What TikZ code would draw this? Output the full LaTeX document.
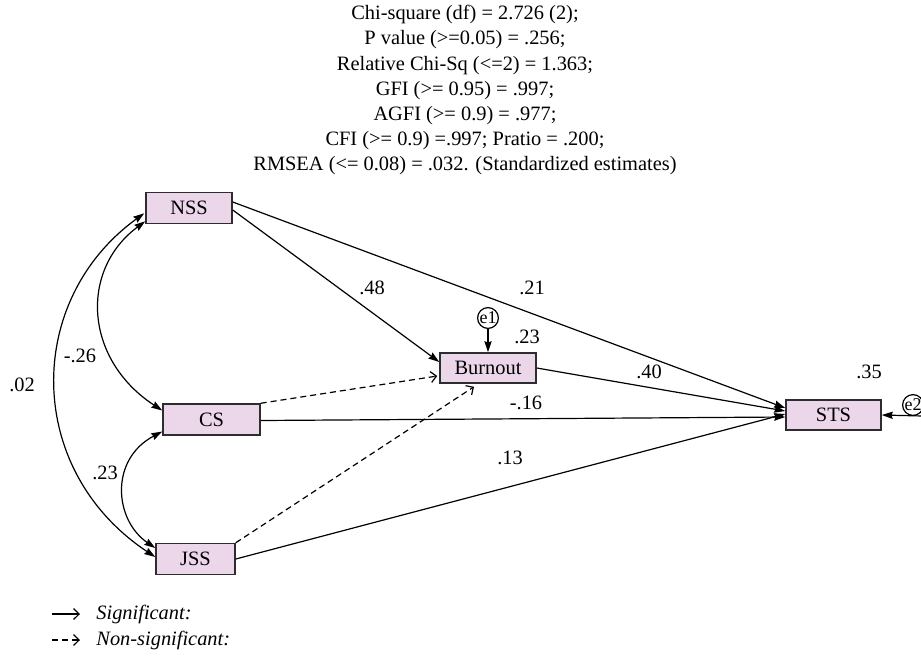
\documentclass[tikz,border=0pt]{standalone}
\usepackage{fontspec}
\setmainfont{Liberation Serif}
\usetikzlibrary{arrows.meta,calc}
\definecolor{boxfill}{RGB}{235,214,234}
\definecolor{boxdraw}{RGB}{45,45,45}
\begin{document}
\begin{tikzpicture}[x=0.5pt,y=-0.5pt,
  every node/.style={font=\fontsize{10.2pt}{12.6pt}\selectfont},
  var/.style={draw=boxdraw, line width=0.75pt, fill=boxfill, inner sep=0pt, minimum height=15.5pt},
  errc/.style={draw=black, circle, line width=0.6pt, inner sep=0pt, minimum size=10pt, font=\fontsize{9pt}{10pt}\selectfont},
  sig/.style={line width=0.6pt, -{Stealth[length=5.5pt,width=3.6pt,inset=0.6pt]}},
  nsig/.style={line width=0.6pt, dash pattern=on 3pt off 2pt, -{Straight Barb[length=2.8pt,width=5.5pt]}},
  cov/.style={line width=0.6pt, {Stealth[length=5.5pt,width=3.6pt,inset=0.6pt]}-{Stealth[length=5.5pt,width=3.6pt,inset=0.6pt]}},
  lbl/.style={inner sep=0pt},
  legtxt/.style={anchor=west, inner sep=0pt, font=\fontsize{10.2pt}{12.6pt}\selectfont\itshape}
]
\useasboundingbox (0,0) rectangle (921,660);

% fit statistics
\node[anchor=north, align=center, inner sep=0pt] (fitstats) at (465,5)
  {Chi-square (df) = 2.726 (2);\\
   P value (>=0.05) = .256;\\
   Relative Chi-Sq (<=2) = 1.363;\\
   GFI (>= 0.95) = .997;\\
   AGFI (>= 0.9) = .977;\\
   CFI (>= 0.9) =.997; Pratio = .200;\\
   RMSEA (<= 0.08) = .032. (Standardized estimates)};

% variables
\node[var, minimum width=43pt] (NSS) at (189,208) {NSS};
\node[var, minimum width=48.5pt] (CS) at (211.5,419.5) {CS};
\node[var, minimum width=39.5pt] (JSS) at (195.5,559) {JSS};
\node[var, minimum width=48pt, minimum height=15pt] (Burnout) at (488,368) {Burnout};
\node[var, minimum width=47.5pt, minimum height=15pt] (STS) at (833.5,415) {STS};
\node[errc] (e1) at (488,318) {e1};
\node[errc] (e2) at (913,405) {e2};

% paths
\draw[sig] ($(NSS.east)+(0,2)$) -- ($(Burnout.west)+(0,-6)$);
\draw[sig] ($(NSS.east)+(0,-6)$) -- ($(STS.west)+(0,-7)$);
\draw[sig] (Burnout.east) -- ($(STS.west)+(0,-4)$);
\draw[nsig] (CS.north east) -- ($(Burnout.west)+(-2,8)$);
\draw[sig] ($(CS.east)+(0,1)$) -- ($(STS.west)+(0,2)$);
\draw[nsig] (JSS.north east) -- ($(Burnout.south)+(-14,3)$);
\draw[sig] (JSS.east) -- ($(STS.west)+(0,-1)$);
\draw[sig] (e1.south) -- (Burnout.north);
\draw[sig] ($(e2.south)+(10,0)$) -- (STS.east);

% covariances
\draw[cov] ($(NSS.south west)+(-1,-11)$) .. controls +(-120,87) and +(-131,-87) .. ($(JSS.west)+(0,-2)$);
\draw[cov] ($(NSS.south west)+(0,-3)$) .. controls +(-66,49) and +(-78,-51) .. ($(CS.west)+(0,-9)$);
\draw[cov] ($(CS.west)+(0,12)$) .. controls +(-53,28) and +(-41,-28) .. ($(JSS.west)+(0,-11)$);

% estimates
\node[lbl] (l48) at (372,288) {.48};
\node[lbl] (l21) at (532,288) {.21};
\node[lbl] (l23b) at (527,337) {.23};
\node[lbl] (l40) at (649,372) {.40};
\node[lbl] (l35) at (869,372) {.35};
\node[lbl] (l16) at (526,403) {-.16};
\node[lbl] (l13) at (510,458) {.13};
\node[lbl] (l02) at (22,385) {.02};
\node[lbl] (l26) at (80,356) {-.26};
\node[lbl] (l23c) at (105,473) {.23};

% legend
\coordinate (sa) at (52,614);
\coordinate (sb) at (80,614);
\draw[line width=0.6pt, -{Straight Barb[length=2.8pt,width=5.5pt]}] (sa) -- (sb);
\node[legtxt] (sigtxt) at (96,614) {Significant:};
\coordinate (na) at (52,640);
\coordinate (nb) at (80,640);
\draw[line width=0.6pt, dash pattern=on 3pt off 2pt, -{Straight Barb[length=2.8pt,width=5.5pt]}] (na) -- (nb);
\node[legtxt] (nsigtxt) at (96,640) {Non-significant:};
\end{tikzpicture}
\end{document}
